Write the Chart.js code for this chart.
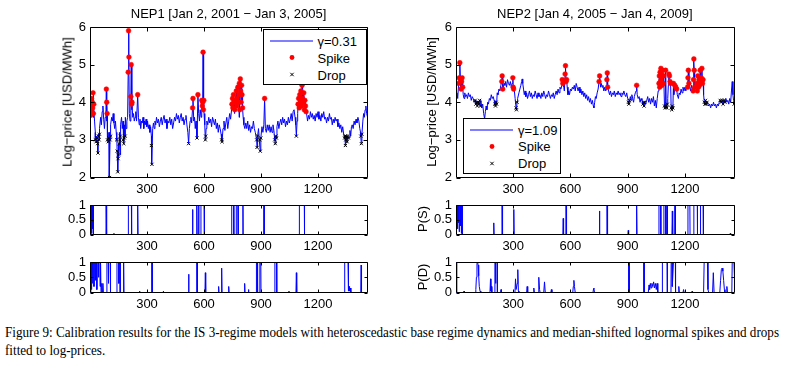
<!DOCTYPE html>
<html><head><meta charset="utf-8">
<script src="https://cdn.jsdelivr.net/npm/chart.js@4.4.1/dist/chart.umd.min.js"></script>
<style>
html,body{margin:0;padding:0;background:#fff;}
body{width:787px;height:367px;overflow:hidden;position:relative;font-family:"Liberation Sans",Arial,sans-serif;color:#000;}
canvas{position:absolute;}
.t{position:absolute;font-size:13px;white-space:nowrap;line-height:1;transform:translate(-50%,-50%);}
.rot{transform:translate(-50%,-50%) rotate(-90deg);}
.leg{position:absolute;border:1px solid #000;background:#fff;box-sizing:border-box;}
.lt{position:absolute;font-size:13px;white-space:nowrap;line-height:1;transform:translateY(-50%);}
.cap{position:absolute;left:5px;font-family:"Liberation Serif","Times New Roman",serif;font-size:14px;white-space:nowrap;transform-origin:0 50%;line-height:1;}
</style></head><body>
<script>
// ---------------- DATA ----------------
const xTickValues = [300, 600, 900, 1200];
const priceTicks = [2, 3, 4, 5, 6];
const probTicks = [0, 0.5, 1];

// NEP1 base regime log-prices [day, value]
const nep1Base = [[0,3.7],[4,3.9],[8,3.65],[12,3.8],[16,3.6],[20,3.75],[24,3.5],[28,3.2],[32,3.0],[36,3.1],[40,2.95],[44,3.15],[48,3.05],[52,3.3],[56,3.6],[60,3.4],[64,3.75],[68,3.9],[72,3.55],[76,3.3],[80,3.6],[84,3.8],[88,3.5],[92,3.1],[96,3.0],[100,3.2],[106,3.1],[110,3.4],[114,3.6],[118,3.5],[122,3.7],[126,3.45],[130,3.3],[134,3.5],[138,3.2],[142,3.05],[150,2.9],[154,3.2],[158,2.6],[162,3.4],[166,3.6],[170,3.3],[174,3.5],[178,3.0],[182,3.4],[186,3.6],[190,3.3],[194,3.5],[198,3.6],[207,3.7],[211,3.5],[221,3.8],[225,3.6],[229,3.7],[233,3.5],[237,3.6],[241,3.75],[245,3.5],[255,3.6],[259,3.4],[263,3.55],[267,3.3],[271,3.5],[275,3.45],[279,3.6],[283,3.3],[287,3.5],[291,3.4],[295,3.55],[299,3.35],[303,3.5],[307,3.3],[311,3.4],[315,3.2],[319,3.35],[323,3.1],[330,3.3],[334,3.45],[338,3.3],[342,3.5],[346,3.4],[350,3.6],[355,3.45],[360,3.55],[365,3.35],[370,3.5],[375,3.6],[380,3.4],[385,3.55],[390,3.65],[395,3.45],[400,3.55],[405,3.3],[410,3.5],[415,3.45],[420,3.6],[425,3.4],[430,3.55],[435,3.3],[440,3.45],[445,3.6],[450,3.5],[455,3.7],[460,3.55],[465,3.65],[470,3.45],[475,3.6],[480,3.7],[485,3.5],[490,3.6],[495,3.4],[500,3.55],[505,3.65],[510,3.4],[515,3.2],[523,3.3],[527,3.5],[531,3.6],[535,3.45],[546,3.5],[550,3.6],[554,3.3],[558,3.5],[572,3.7],[576,3.5],[580,3.8],[585,3.6],[600,3.7],[604,3.4],[611,3.3],[615,3.5],[620,3.4],[625,3.6],[630,3.45],[635,3.55],[640,3.35],[645,3.6],[650,3.5],[655,3.4],[660,3.55],[665,3.3],[670,3.45],[675,3.2],[680,3.4],[685,3.3],[690,3.15],[700,3.3],[705,3.5],[710,3.25],[715,3.45],[720,3.6],[725,3.3],[730,3.5],[735,3.7],[740,3.55],[745,3.8],[760,3.7],[785,3.6],[806,3.6],[810,3.4],[815,3.3],[820,3.45],[825,3.3],[830,3.5],[835,3.25],[840,3.4],[845,3.2],[850,3.35],[855,3.3],[860,3.5],[865,3.3],[870,3.2],[887,3.3],[891,3.0],[905,3.35],[910,3.2],[915,3.4],[923,3.3],[928,3.2],[933,3.4],[938,3.25],[943,3.4],[948,3.2],[953,3.35],[958,3.2],[963,3.4],[968,3.25],[984,3.35],[989,3.5],[994,3.3],[999,3.45],[1004,3.55],[1009,3.4],[1014,3.6],[1019,3.45],[1024,3.55],[1029,3.35],[1034,3.5],[1039,3.4],[1044,3.6],[1049,3.45],[1054,3.55],[1059,3.7],[1064,3.5],[1069,3.75],[1074,3.8],[1079,3.6],[1083,3.4],[1090,3.5],[1093,3.7],[1140,3.7],[1145,3.5],[1150,3.65],[1155,3.55],[1160,3.75],[1165,3.6],[1170,3.7],[1175,3.55],[1180,3.65],[1185,3.5],[1190,3.7],[1195,3.6],[1200,3.75],[1205,3.55],[1210,3.65],[1215,3.5],[1220,3.7],[1225,3.6],[1230,3.75],[1235,3.55],[1240,3.6],[1245,3.45],[1250,3.6],[1255,3.5],[1260,3.7],[1265,3.55],[1270,3.6],[1275,3.4],[1280,3.55],[1285,3.45],[1290,3.6],[1295,3.5],[1300,3.55],[1305,3.35],[1310,3.45],[1315,3.3],[1320,3.4],[1325,3.2],[1330,3.35],[1335,3.15],[1364,3.05],[1368,3.25],[1372,3.1],[1376,3.35],[1380,3.4],[1385,3.3],[1390,3.5],[1395,3.4],[1400,3.55],[1405,3.45],[1410,3.6],[1415,3.5],[1420,3.3],[1424,3.2],[1436,3.5],[1440,3.7],[1444,3.6],[1448,3.8],[1452,3.9],[1456,3.7],[1461,3.6]];
const nep1Spikes = [[2,3.65],[4,4.05],[6,3.9],[8,4.1],[10,3.75],[12,4.0],[14,3.85],[16,4.25],[18,3.7],[20,3.95],[86,4.35],[88,4.0],[90,3.7],[201,4.8],[203,5.9],[205,5.2],[215,4.15],[217,5.0],[219,3.95],[221,4.0],[251,4.2],[540,3.85],[542,4.1],[568,4.2],[588,4.05],[591,3.9],[593,4.0],[595,5.33],[597,3.8],[599,4.05],[747,3.95],[750,4.1],[752,3.85],[755,4.2],[758,4.0],[762,3.8],[765,4.05],[770,4.3],[772,3.9],[775,4.1],[778,4.4],[780,4.0],[783,4.2],[786,4.5],[788,3.8],[791,4.62],[793,4.3],[795,4.0],[798,4.45],[800,4.2],[803,3.85],[919,4.1],[1095,3.95],[1098,4.1],[1101,3.85],[1104,4.2],[1107,4.0],[1110,4.3],[1113,3.9],[1116,4.45],[1119,4.1],[1122,4.0],[1125,4.25],[1128,3.8],[1131,4.05],[1134,3.9],[1137,3.75]];
const nep1Drops = [[28,3.0],[32,2.95],[36,3.05],[40,2.9],[42,2.65],[44,3.1],[48,3.0],[50,3.15],[92,3.0],[96,2.95],[100,3.05],[103,2.0],[106,3.0],[109,3.1],[140,3.0],[143,2.7],[146,2.15],[148,2.5],[150,2.6],[153,2.9],[156,3.0],[160,3.1],[175,3.0],[178,2.9],[181,3.05],[185,3.1],[323,2.85],[326,2.35],[519,2.9],[563,3.05],[607,3.0],[609,3.1],[693,3.0],[695,2.95],[877,3.0],[879,2.8],[882,3.1],[893,3.0],[896,2.7],[899,3.05],[972,3.0],[975,2.9],[978,3.1],[981,3.05],[1086,3.1],[1340,3.05],[1342,3.1],[1344,2.85],[1346,3.0],[1348,3.1],[1350,3.05],[1353,2.95],[1356,3.1],[1360,3.05],[1425,3.1],[1428,2.9],[1431,3.15]];
const nep1ProbSpike = [[0,0],[3,0.02],[4,1],[5,0.1],[6,1],[7,1],[8,0.3],[9,1],[10,0.05],[11,1],[12,1],[13,0.2],[14,1],[15,0.6],[16,1],[17,0.05],[19,0],[84,0],[85,1],[87,1],[88,0],[125,0],[126,0.05],[127,0],[201,0],[202,1],[218,1],[219,0],[249,0],[250,1],[252,1],[253,0],[538,0],[539,0.85],[541,0.85],[542,0],[560,0],[561,1],[563,1],[564,0],[571,0],[572,1],[573,0],[583,0],[584,1],[601,1],[602,0],[745,0],[746,1],[756,1],[757,0],[769,0],[770,1],[779,1],[780,0],[804,0],[805,1],[806,0],[915,0],[916,1],[917,0],[1101,0],[1102,1],[1128,1],[1129,0],[1461,0]];
const nep1ProbDrop = [[0,0],[4,0],[5,1],[7,1],[8,0.1],[9,1],[13,1],[14,0.3],[15,1],[20,1],[21,0.2],[22,1],[27,1],[28,0.4],[29,1],[35,1],[36,0.1],[37,1],[44,1],[45,0.5],[46,1],[52,1],[53,0.2],[54,1],[57,1],[58,0],[60,0],[63,0.3],[66,0],[68,0.3],[70,0],[88,0],[89,1],[96,1],[97,0.3],[98,1],[106,1],[107,0.5],[108,0.45],[109,0],[141,0],[142,1],[151,1],[152,0.3],[153,1],[158,1],[159,0],[175,0],[176,1],[178,1],[179,0],[260,0],[261,0.05],[262,0],[324,0],[325,1],[327,1],[328,0],[385,0],[386,0.05],[387,0],[517,0],[519,0.6],[521,0],[561,0],[562,1],[564,1],[565,0],[605,0],[607,0.65],[609,0],[675,0],[677,0.2],[679,0],[691,0],[693,0.8],[695,0],[728,0],[730,0.2],[732,0],[812,0],[814,0.3],[816,0],[832,0],[834,0.1],[836,0],[875,0],[876,1],[881,1],[882,0],[893,0],[894,1],[899,1],[900,0],[972,0],[973,1],[982,1],[983,0],[1045,0],[1047,0.05],[1049,0],[1084,0],[1086,0.65],[1088,0],[1338,0],[1339,0.05],[1342,1],[1358,1],[1359,0.3],[1360,1],[1362,0.05],[1364,0.2],[1366,0.05],[1370,0.15],[1373,0],[1425,0],[1427,0.9],[1429,0],[1461,0]];

// NEP2
const nep2Base = [[0,4.15],[5,4.25],[9,4.1],[38,4.2],[42,4.1],[46,4.25],[50,4.15],[55,4.2],[60,4.1],[65,4.25],[70,4.15],[75,4.2],[80,4.05],[85,4.15],[90,4.1],[95,4.0],[130,4.05],[135,3.85],[140,3.95],[145,3.7],[150,3.56],[154,3.75],[158,3.9],[162,3.8],[166,4.0],[170,3.95],[175,4.1],[180,4.05],[185,4.2],[190,4.1],[195,4.15],[200,4.05],[216,4.25],[220,4.2],[225,4.35],[230,4.3],[235,4.45],[248,4.4],[252,4.5],[256,4.45],[260,4.55],[265,4.4],[270,4.6],[275,4.5],[280,4.45],[285,4.55],[290,4.4],[294,4.5],[306,4.3],[310,4.1],[323,4.1],[330,4.25],[335,4.35],[340,4.45],[344,4.55],[347,4.62],[350,4.5],[354,4.35],[358,4.2],[362,4.3],[366,4.15],[370,4.25],[375,4.1],[380,4.2],[385,4.3],[390,4.15],[395,4.25],[400,4.1],[405,4.2],[410,4.15],[415,4.3],[420,4.2],[425,4.1],[430,4.25],[435,4.15],[440,4.2],[445,4.1],[450,4.25],[455,4.15],[460,4.3],[465,4.2],[470,4.1],[475,4.2],[480,4.15],[485,4.3],[490,4.2],[495,4.1],[500,4.2],[505,4.15],[510,4.25],[515,4.1],[520,4.2],[525,4.3],[530,4.2],[535,4.35],[540,4.25],[545,4.4],[550,4.35],[555,4.45],[565,4.4],[568,4.3],[583,4.4],[587,4.2],[591,4.3],[595,4.2],[600,4.35],[605,4.3],[610,4.4],[615,4.35],[620,4.45],[625,4.3],[630,4.5],[635,4.4],[640,4.3],[645,4.4],[650,4.25],[655,4.35],[660,4.2],[665,4.3],[670,4.15],[675,4.25],[680,4.1],[685,4.2],[690,4.05],[695,4.15],[700,4.0],[705,4.1],[710,3.95],[715,4.05],[720,3.9],[723,3.85],[727,4.0],[731,4.15],[735,4.1],[740,4.25],[745,4.35],[758,4.4],[762,4.5],[766,4.4],[770,4.45],[775,4.3],[780,4.4],[785,4.3],[788,4.35],[800,4.3],[805,4.2],[810,4.3],[815,4.15],[820,4.25],[825,4.2],[830,4.3],[835,4.15],[840,4.25],[845,4.2],[850,4.3],[855,4.2],[860,4.25],[865,4.15],[870,4.25],[875,4.2],[880,4.3],[885,4.2],[890,4.15],[895,4.25],[900,4.1],[914,4.15],[918,4.05],[922,4.2],[926,4.1],[931,4.0],[935,4.15],[940,4.25],[944,4.3],[950,4.2],[955,4.1],[960,4.15],[965,4.0],[970,4.1],[975,4.05],[994,3.95],[1000,4.05],[1005,4.15],[1010,4.0],[1015,4.1],[1020,3.95],[1025,4.1],[1030,4.0],[1035,4.15],[1040,3.9],[1045,4.05],[1050,3.85],[1055,4.1],[1060,4.3],[1110,4.1],[1142,4.2],[1160,4.2],[1166,4.1],[1170,4.25],[1175,4.2],[1180,4.35],[1185,4.25],[1190,4.4],[1195,4.3],[1200,4.4],[1205,4.3],[1210,4.45],[1226,4.4],[1230,4.3],[1235,4.45],[1240,4.35],[1254,4.4],[1258,4.5],[1298,4.2],[1320,4.0],[1325,3.9],[1330,3.95],[1335,3.85],[1340,3.95],[1345,3.9],[1350,4.0],[1355,3.9],[1360,3.95],[1365,3.85],[1370,3.95],[1375,3.9],[1380,4.0],[1415,4.1],[1420,4.0],[1425,4.05],[1430,3.95],[1435,4.1],[1440,4.0],[1444,4.3],[1448,4.55],[1452,4.2],[1455,4.05],[1460,4.15]];
const nep2Spikes = [[14,4.5],[17,4.65],[20,5.05],[23,4.6],[26,4.35],[29,4.55],[32,4.65],[35,4.4],[240,4.55],[242,4.7],[245,4.35],[298,4.65],[300,4.4],[302,4.35],[557,4.6],[560,4.5],[572,4.75],[574,4.97],[577,4.55],[580,4.6],[750,4.55],[753,4.7],[791,4.6],[793,4.78],[795,4.4],[947,4.45],[1064,4.5],[1066,4.7],[1068,4.4],[1070,4.8],[1072,4.55],[1074,4.9],[1076,4.6],[1078,4.75],[1080,4.45],[1083,4.85],[1086,4.5],[1089,4.7],[1099,4.85],[1116,4.75],[1119,4.7],[1122,4.55],[1125,4.5],[1140,4.5],[1147,4.45],[1152,4.4],[1157,4.35],[1214,4.4],[1216,4.65],[1218,4.85],[1221,4.5],[1243,4.3],[1245,4.6],[1247,5.15],[1249,4.85],[1251,4.4],[1262,4.5],[1265,4.3],[1268,4.7],[1271,4.4],[1274,4.6],[1277,4.45],[1280,4.85],[1283,4.55],[1286,4.65],[1289,4.9],[1292,4.5],[1295,4.6]];
const nep2Drops = [[100,4.05],[104,3.95],[108,4.0],[112,3.9],[116,4.0],[120,3.95],[124,4.05],[128,3.9],[204,3.95],[207,3.9],[210,4.0],[213,3.95],[315,3.85],[317,3.8],[320,4.0],[904,4.0],[906,3.95],[910,4.05],[980,3.95],[983,4.0],[986,3.9],[989,4.0],[1093,3.9],[1096,3.85],[1102,3.9],[1105,3.85],[1108,3.95],[1128,3.85],[1131,3.8],[1134,3.9],[1137,3.85],[1302,4.0],[1305,3.95],[1308,4.05],[1312,3.95],[1316,4.0],[1385,4.05],[1390,4.0],[1395,4.05],[1400,3.95],[1405,4.05],[1410,4.0],[1458,3.95]];
const nep2ProbSpike = [[0,0],[5,0],[6,1],[8,0.2],[9,1],[11,1],[12,0.4],[13,1],[16,1],[17,0.1],[18,1],[22,1],[23,0.3],[24,1],[27,1],[28,0.05],[29,1],[32,1],[33,0],[196,0],[198,0.4],[200,0],[240,0],[241,1],[243,1],[244,0],[301,0],[303,0.85],[305,0],[560,0],[562,0.55],[564,0],[576,0],[577,1],[579,1],[580,0],[750,0],[752,0.8],[754,0],[791,0],[792,1],[794,1],[795,0],[901,0],[903,0.15],[905,0],[945,0],[946,1],[948,1],[949,0],[1063,0],[1064,1],[1073,1],[1074,0],[1089,0],[1090,1],[1099,1],[1100,0],[1106,0],[1107,1],[1108,0],[1132,0],[1134,0.8],[1136,0],[1146,0],[1147,1],[1149,1],[1150,0],[1215,0],[1216,1],[1226,1],[1227,0],[1246,0],[1247,1],[1265,1],[1266,0],[1281,0],[1282,1],[1296,1],[1297,0],[1436,0],[1438,0.05],[1440,0],[1460,0]];
const nep2ProbDrop = [[0,0],[2,1],[4,1],[5,0],[40,0],[42,0.05],[44,0],[100,0],[104,0.1],[107,0.5],[110,0.95],[113,1],[116,0.9],[119,0.55],[122,0.2],[126,0.05],[130,0],[178,0],[181,0.45],[183,0.05],[186,0.2],[188,0],[203,0],[204,1],[207,1],[208,0.3],[209,1],[216,1],[217,0],[234,0],[236,0.1],[238,0],[309,0],[312,0.45],[315,0.1],[321,0.3],[324,0.75],[327,0.05],[330,0],[370,0],[373,0.2],[376,0],[405,0],[408,0.15],[411,0],[430,0],[434,0.5],[438,0.1],[441,0],[460,0],[464,0.35],[468,0],[497,0],[500,0.1],[503,0],[612,0],[615,0.2],[618,0.4],[621,0.2],[625,0],[718,0],[721,0.12],[723,0.15],[726,0],[904,0],[905,1],[907,1],[908,0],[983,0],[984,1],[986,1],[987,0],[1008,0],[1012,0.25],[1015,0.1],[1019,0.3],[1023,0.15],[1027,0.3],[1031,0.2],[1036,0.35],[1040,0.15],[1045,0.3],[1050,0.1],[1054,0.3],[1058,0],[1081,0],[1082,1],[1107,1],[1108,0],[1127,0],[1128,1],[1133,1],[1134,0.2],[1140,1],[1150,1],[1151,0],[1165,0],[1168,0.2],[1171,0],[1190,0],[1193,0.1],[1196,0],[1236,0],[1238,0.05],[1240,0],[1298,0],[1301,1],[1318,1],[1321,0.1],[1325,0],[1345,0],[1349,0.65],[1353,0],[1383,0],[1387,0.4],[1391,0.75],[1395,0.8],[1399,0.7],[1403,0.4],[1407,0.1],[1410,0],[1417,0],[1420,0.2],[1423,0],[1446,0],[1448,1],[1457,1],[1460,0.5]];

// ---------------- RENDER ----------------
const FONT = '"Liberation Sans", Arial, sans-serif';
const BLUE = '#0000ff';
const toXY = arr => arr.map(p => ({x: p[0], y: p[1]}));
const mergeSeries = (...lists) => lists.flat().slice().sort((a, b) => a[0] - b[0]);

const boxPlugin = {
  id: 'matlabBox',
  afterDraw(chart) {
    const {ctx, chartArea: a, scales} = chart;
    const xs = scales.x, ys = scales.y;
    ctx.save();
    ctx.strokeStyle = '#000';
    ctx.lineWidth = 1;
    const L = Math.round(a.left) + 0.5, R = Math.round(a.right) - 0.5;
    const T = Math.round(a.top) + 0.5, B = Math.round(a.bottom) - 0.5;
    ctx.beginPath();
    ctx.rect(L, T, R - L, B - T);
    const tl = chart.options.plugins.matlabBox.tickLen;
    xs.ticks.forEach(t => {
      const px = Math.round(xs.getPixelForValue(t.value)) + 0.5;
      ctx.moveTo(px, B); ctx.lineTo(px, B - tl);
      ctx.moveTo(px, T); ctx.lineTo(px, T + tl);
    });
    ys.ticks.forEach(t => {
      const py = Math.round(ys.getPixelForValue(t.value)) + 0.5;
      ctx.moveTo(L, py); ctx.lineTo(L + tl, py);
      ctx.moveTo(R, py); ctx.lineTo(R - tl, py);
    });
    ctx.stroke();
    ctx.restore();
  }
};

function makePanel(geom, xMax, yMin, yMax, yTicks, datasets, tickLen) {
  const padL = 48, padR = 12, padT = 12, padB = 24;
  const cv = document.createElement('canvas');
  const cx = geom.left - padL, cy = geom.top - padT;
  const w = Math.round(geom.right - geom.left + padL + padR);
  const h = Math.round(geom.bottom - geom.top + padT + padB);
  cv.width = w; cv.height = h;
  cv.style.left = cx + 'px'; cv.style.top = cy + 'px';
  cv.style.width = w + 'px'; cv.style.height = h + 'px';
  document.body.appendChild(cv);
  const rightPad = w - (geom.right - geom.left) - padL;
  const xH = h - (geom.bottom - geom.top) - padT;
  return new Chart(cv, {
    type: 'line',
    data: {datasets},
    options: {
      responsive: false, animation: false, devicePixelRatio: 1,
      layout: {padding: {left: 0, right: rightPad, top: padT, bottom: 0}},
      plugins: {legend: {display: false}, tooltip: {enabled: false}, matlabBox: {tickLen}},
      elements: {line: {tension: 0}},
      scales: {
        x: {
          type: 'linear', min: 0, max: xMax,
          grid: {display: false, drawTicks: false}, border: {display: false},
          afterBuildTicks: s => { s.ticks = xTickValues.map(v => ({value: v})); },
          afterFit: s => { s.height = xH; },
          ticks: {color: '#000', font: {family: FONT, size: 13}, padding: 4, maxRotation: 0, autoSkip: false, callback: v => String(v)}
        },
        y: {
          type: 'linear', min: yMin, max: yMax,
          grid: {display: false, drawTicks: false}, border: {display: false},
          afterBuildTicks: s => { s.ticks = yTicks.map(v => ({value: v})); },
          afterFit: s => { s.width = padL; },
          ticks: {color: '#000', font: {family: FONT, size: 13}, padding: 4, autoSkip: false, callback: v => String(v)}
        }
      }
    },
    plugins: [boxPlugin]
  });
}

function priceDatasets(base, spikes, drops) {
  return [
    {data: toXY(drops), showLine: false, pointStyle: 'crossRot', pointRadius: 2.2, borderColor: '#000', backgroundColor: '#000', pointBorderWidth: 1, order: 1},
    {data: toXY(spikes), showLine: false, pointStyle: 'circle', pointRadius: 2.4, borderColor: '#ff0000', backgroundColor: '#ff0000', pointBorderWidth: 0.5, order: 2},
    {data: toXY(mergeSeries(base, spikes, drops)), borderColor: BLUE, borderWidth: 1, pointRadius: 0, fill: false, order: 3}
  ];
}
function probDataset(arr) {
  return [{data: toXY(arr), borderColor: BLUE, borderWidth: 1, pointRadius: 0, fill: false}];
}

const colL = {left: 89.7, right: 367.3}, colR = {left: 455.5, right: 734};
const rowMain = {top: 27, bottom: 177.5}, rowS = {top: 204.5, bottom: 234.3}, rowD = {top: 261.7, bottom: 292.3};
const g = (c, r) => ({left: c.left, right: c.right, top: r.top, bottom: r.bottom});

makePanel(g(colL, rowMain), 1461, 2, 6, priceTicks, priceDatasets(nep1Base, nep1Spikes, nep1Drops), 4);
makePanel(g(colR, rowMain), 1460, 2, 6, priceTicks, priceDatasets(nep2Base, nep2Spikes, nep2Drops), 4);
makePanel(g(colL, rowS), 1461, 0, 1, probTicks, probDataset(nep1ProbSpike), 3);
makePanel(g(colR, rowS), 1460, 0, 1, probTicks, probDataset(nep2ProbSpike), 3);
makePanel(g(colL, rowD), 1461, 0, 1, probTicks, probDataset(nep1ProbDrop), 3);
makePanel(g(colR, rowD), 1460, 0, 1, probTicks, probDataset(nep2ProbDrop), 3);

function addText(txt, x, y, cls) {
  const d = document.createElement('div');
  d.className = cls; d.textContent = txt;
  d.style.left = x + 'px'; d.style.top = y + 'px';
  document.body.appendChild(d);
  return d;
}
addText('NEP1 [Jan 2, 2001 \u2212 Jan 3, 2005]', 228.5, 12.5, 't');
addText('NEP2 [Jan 4, 2005 \u2212 Jan 4, 2009]', 594.8, 12.5, 't');
addText('Log\u2212price [USD/MWh]', 67, 102, 't rot');
addText('Log\u2212price [USD/MWh]', 431, 102, 't rot');
addText('P(S)', 422, 219, 't rot');
addText('P(D)', 422, 277, 't rot');

function legend(box, label) {
  const d = document.createElement('div');
  d.className = 'leg';
  d.style.left = box.x + 'px'; d.style.top = box.y + 'px';
  d.style.width = box.w + 'px'; d.style.height = box.h + 'px';
  d.innerHTML =
    '<svg width="' + box.w + '" height="' + box.h + '" style="position:absolute;left:-1px;top:-1px">' +
    '<line x1="7" y1="12" x2="50" y2="12" stroke="#0000ff" stroke-width="1"/>' +
    '<circle cx="29" cy="28.5" r="2.4" fill="#ff0000"/>' +
    '<path d="M27.3 43.8 L30.7 47.2 M30.7 43.8 L27.3 47.2" stroke="#000" stroke-width="1"/>' +
    '</svg>';
  document.body.appendChild(d);
  addText(label, box.x + 55, box.y + 12, 'lt');
  addText('Spike', box.x + 55, box.y + 28.5, 'lt');
  addText('Drop', box.x + 55, box.y + 45.5, 'lt');
}
legend({x: 262.5, y: 29, w: 104, h: 56}, '\u03b3=0.31');
legend({x: 463, y: 117.5, w: 98, h: 56}, '\u03b3=1.09');

const cap1 = addText('Figure 9: Calibration results for the IS 3-regime models with heteroscedastic base regime dynamics and median-shifted lognormal spikes and drops', 0, 333, 'cap');
const cap2 = addText('fitted to log-prices.', 0, 351, 'cap');
cap1.style.left = '5px'; cap2.style.left = '5px';
cap1.style.top = '326px'; cap2.style.top = '344px';
const scale = 774 / cap1.getBoundingClientRect().width;
cap1.style.transform = 'scaleX(' + scale + ')';
cap2.style.transform = 'scaleX(' + scale + ')';
</script>
</body></html>
